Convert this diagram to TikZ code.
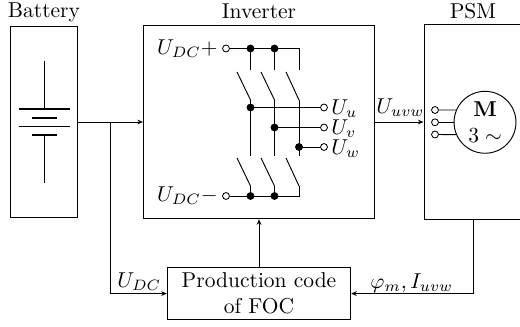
\documentclass[tikz,border=0pt]{standalone}
\usetikzlibrary{arrows.meta}
\begin{document}
\begin{tikzpicture}[
    x=0.465pt, y=-0.465pt, >={Stealth[length=2.6pt,width=2.2pt]},
    drive wire/.style={draw=black, line width=0.44pt},
    drive plate/.style={draw=black, line width=0.8pt},
    drive box/.style={draw=black, line width=0.44pt, inner sep=0pt, align=center},
    drive term/.style={circle, draw=black, fill=white, line width=0.4pt, inner sep=0pt, minimum size=3.2pt},
    drive dot/.style={circle, draw=black, fill=black, inner sep=0pt, minimum size=3.2pt},
    drive name/.style={inner sep=0pt, anchor=base},
    drive sig/.style={inner sep=0pt, anchor=west},
]
  \useasboundingbox (0,0) rectangle (520,326);

  % Blocks.
  \node[drive box, minimum width=31.4pt, minimum height=88.4pt] (battery) at (44.2,122) {};
  \node[drive box, minimum width=107.5pt, minimum height=90pt] (inverter) at (259,122) {};
  \node[drive box, minimum width=45.6pt, minimum height=91.1pt] (psm) at (473,122) {};
  \node[drive box, minimum width=85.3pt, minimum height=24.5pt] (foc) at (259,293.6) {Production code\\of FOC};

  % Titles.
  \node[drive name] (battery name) at (44,17.5) {Battery};
  \node[drive name] (inverter name) at (259,18.5) {Inverter};
  \node[drive name] (psm name) at (473,19) {PSM};

  % Battery cells.
  \draw[drive wire] (44,61) -- (44,109);
  \draw[drive plate] (18.5,109) -- (70,109);
  \draw[drive plate] (31.5,118) -- (57,118);
  \draw[drive plate] (18.5,126.5) -- (70,126.5);
  \draw[drive plate] (31.5,135) -- (57,135);
  \draw[drive wire] (44,135) -- (44,183);

  % Inverter terminals and junctions.
  \node[drive term] (t-plus) at (226,48.5) {};
  \node[drive term] (t-minus) at (226,196) {};
  \node[drive term] (t-u) at (324,107.5) {};
  \node[drive term] (t-v) at (324,127.5) {};
  \node[drive term] (t-w) at (324,147) {};
  \node[drive dot] (d-p1) at (250.5,48.5) {};
  \node[drive dot] (d-p2) at (274.5,48.5) {};
  \node[drive dot] (d-m1) at (250.5,196) {};
  \node[drive dot] (d-m2) at (274.5,196) {};
  \node[drive dot] (d-u) at (250.5,107.5) {};
  \node[drive dot] (d-v) at (274.5,127.5) {};
  \node[drive dot] (d-w) at (299,147) {};

  % Switch contacts.
  \coordinate (c-p3) at (299,48.5);
  \coordinate (c-m3) at (299,196);
  \coordinate (a-1) at (250.5,70);
  \coordinate (a-2) at (274.5,70);
  \coordinate (a-3) at (299,70);
  \coordinate (b-1) at (250.5,100);
  \coordinate (b-2) at (274.5,100);
  \coordinate (b-3) at (299,100);
  \coordinate (e-1) at (250.5,156);
  \coordinate (e-2) at (274.5,156);
  \coordinate (e-3) at (299,156);
  \coordinate (f-1) at (250.5,186);
  \coordinate (f-2) at (274.5,186);
  \coordinate (f-3) at (299,186);

  % Inverter wires.
  \draw[drive wire] (t-plus) -- (d-p1) -- (d-p2) -- (c-p3) -- (a-3);
  \draw[drive wire] (d-p1) -- (a-1);
  \draw[drive wire] (d-p2) -- (a-2);
  \draw[drive wire] (t-minus) -- (d-m1) -- (d-m2) -- (c-m3) -- (f-3);
  \draw[drive wire] (d-m1) -- (f-1);
  \draw[drive wire] (d-m2) -- (f-2);
  \draw[drive wire] (b-1) -- (e-1);
  \draw[drive wire] (b-2) -- (e-2);
  \draw[drive wire] (b-3) -- (e-3);
  \draw[drive wire] (d-u) -- (t-u);
  \draw[drive wire] (d-v) -- (t-v);
  \draw[drive wire] (d-w) -- (t-w);

  % Switches.
  \draw[drive wire] (237,72) -- (b-1);
  \draw[drive wire] (261,72) -- (b-2);
  \draw[drive wire] (286,72) -- (b-3);
  \draw[drive wire] (237,158) -- (f-1);
  \draw[drive wire] (261,158) -- (f-2);
  \draw[drive wire] (286,158) -- (f-3);

  % Motor.
  \node[circle, draw=black, line width=0.44pt, minimum size=28.8pt, inner sep=0pt, align=center] (motor) at (485,122.3) {\textbf{M}\\$3\sim$};
  \node[drive term] (t-ma) at (435,110) {};
  \node[drive term] (t-mb) at (435,122.3) {};
  \node[drive term] (t-mc) at (435,134.5) {};
  \draw[drive wire] (t-ma) -- (motor.157);
  \draw[drive wire] (t-mb) -- (motor.180);
  \draw[drive wire] (t-mc) -- (motor.203);

  % Signals.
  \coordinate (branch) at (110.5,122);
  \draw[drive wire, ->] (battery) -- (inverter);
  \draw[drive wire, ->] (inverter) -- (psm);
  \draw[drive wire, ->] (branch) |- (foc);
  \draw[drive wire, ->] (foc) -- (inverter);
  \draw[drive wire, ->] (psm) |- (foc);

  % Labels.
  \node[inner sep=0pt, anchor=east] (l-plus) at (218,49) {$U_{DC}+$};
  \node[inner sep=0pt, anchor=east] (l-minus) at (218,196) {$U_{DC}-$};
  \node[drive sig] (l-u) at (331,109) {$U_u$};
  \node[drive sig] (l-v) at (331,129) {$U_v$};
  \node[drive sig] (l-w) at (331,149) {$U_w$};
  \node[drive sig] (l-uvw) at (376,108) {$U_{uvw}$};
  \node[drive sig] (l-dc) at (117,282) {$U_{DC}$};
  \node[drive sig] (l-fb) at (370,283) {$\varphi_m, I_{uvw}$};
\end{tikzpicture}
\end{document}
